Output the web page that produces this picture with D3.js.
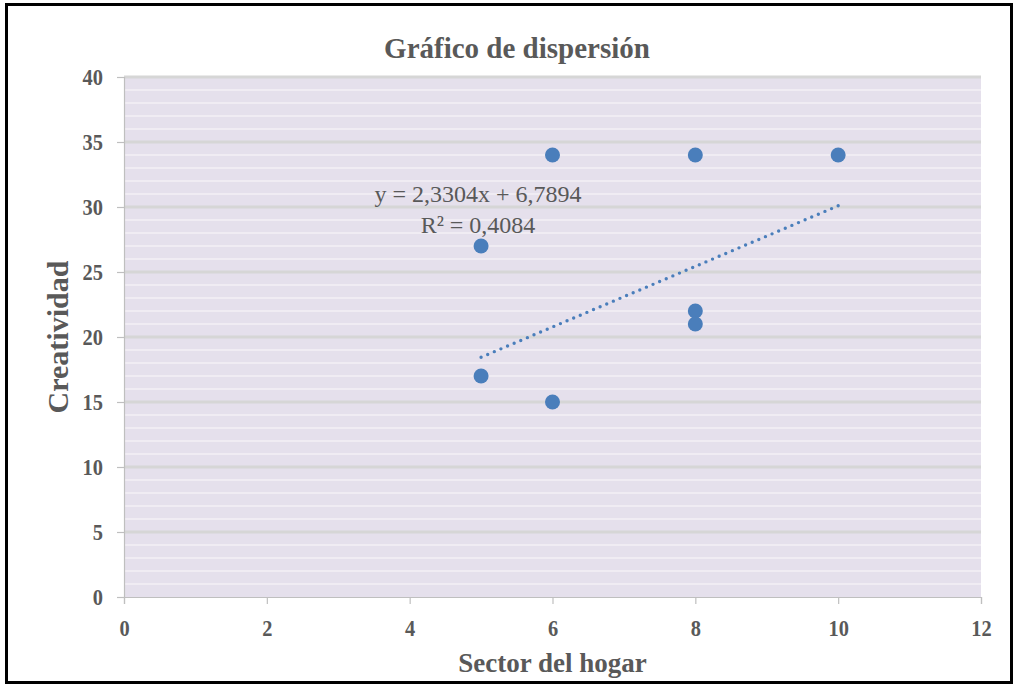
<!DOCTYPE html>
<html>
<head>
<meta charset="utf-8">
<script src="https://cdn.jsdelivr.net/npm/d3@7"></script>
<style>
  html, body { margin: 0; padding: 0; background: #fff; }
  svg { display: block; font-family: "Liberation Serif", "DejaVu Serif", serif; }
</style>
</head>
<body>
<div id="chart"></div>
<script>
// ===== DATA =====
const sectorHogar = [5, 5, 6, 6, 8, 8, 8, 10];
const creatividad = [27, 17, 34, 15, 34, 22, 21, 34];
const xTicks = [0, 2, 4, 6, 8, 10, 12];
const yTicks = [0, 5, 10, 15, 20, 25, 30, 35, 40];
const trendSlope = 2.3304, trendIntercept = 6.7894, trendR2 = 0.4084;
const trendRange = [5, 10];
const chartTitle = 'Gráfico de dispersión';
const xTitle = 'Sector del hogar';
const yTitle = 'Creatividad';

const W = 1018, H = 686;
const margin = { left: 124, right: 37, top: 77, bottom: 89 };
const innerW = W - margin.left - margin.right;
const innerH = H - margin.top - margin.bottom;
const textColor = '#595959';
const blue = '#4a7ebb';
const squeeze = 0.85; // reference glyphs look narrow

const svg = d3.select('#chart').append('svg')
    .attr('width', W).attr('height', H);

// outer frame
svg.append('rect')
    .attr('x', 6.5).attr('y', 4.5).attr('width', 1005).attr('height', 678)
    .attr('fill', '#fff').attr('stroke', '#000').attr('stroke-width', 3);

const x = d3.scaleLinear().domain([0, 12]).range([0, innerW]);
const y = d3.scaleLinear().domain([0, 40]).range([innerH, 0]);

const g = svg.append('g').attr('transform', `translate(${margin.left},${margin.top})`);

// plot background
g.append('rect').attr('width', innerW).attr('height', innerH).attr('fill', '#e5e0ec');

// minor gridlines (every unit)
g.selectAll('.minor').data(d3.range(1, 40).filter(v => v % 5 !== 0))
    .join('line')
    .attr('x1', 0).attr('x2', innerW)
    .attr('y1', d => y(d)).attr('y2', d => y(d))
    .attr('stroke', '#f3f1f6').attr('stroke-width', 1.3);

// major gridlines
g.selectAll('.major').data(yTicks.filter(v => v > 0))
    .join('line')
    .attr('x1', 0).attr('x2', innerW)
    .attr('y1', d => y(d)).attr('y2', d => y(d))
    .attr('stroke', '#d6d6d6').attr('stroke-width', 3);

// axes
const yAxis = g.append('g')
    .call(d3.axisLeft(y).tickValues(yTicks).tickSize(7).tickPadding(14));
const xAxis = g.append('g').attr('transform', `translate(0,${innerH})`)
    .call(d3.axisBottom(x).tickValues(xTicks).tickSize(7).tickPadding(12));

[yAxis, xAxis].forEach(a => {
    a.select('.domain').attr('stroke', '#bfbfbf').attr('stroke-width', 1.2);
    a.selectAll('.tick line').attr('stroke', '#bfbfbf').attr('stroke-width', 1.2);
    a.selectAll('.tick text')
        .attr('fill', textColor)
        .attr('font-family', '"Liberation Serif", serif')
        .attr('font-weight', 700)
        .attr('font-size', 24);
});
// narrow the tick digits, keeping their anchor points
yAxis.selectAll('.tick text')
    .attr('x', -21 / squeeze)
    .attr('transform', `scale(${squeeze},1)`);
xAxis.selectAll('.tick text')
    .attr('dy', '0.85em')
    .attr('transform', `scale(${squeeze},1)`);

// trendline (dotted)
const tx1 = x(trendRange[0]), ty1 = y(trendSlope * trendRange[0] + trendIntercept);
const tx2 = x(trendRange[1]), ty2 = y(trendSlope * trendRange[1] + trendIntercept);
const tLen = Math.hypot(tx2 - tx1, ty2 - ty1);
const gap = tLen / Math.round(tLen / 7.2);
g.append('line')
    .attr('x1', tx1).attr('y1', ty1).attr('x2', tx2).attr('y2', ty2)
    .attr('stroke', blue).attr('stroke-width', 3.4)
    .attr('stroke-linecap', 'round').attr('stroke-dasharray', `0 ${gap}`);

// points
g.selectAll('.pt').data(sectorHogar.map((v, i) => [v, creatividad[i]]))
    .join('circle')
    .attr('cx', d => x(d[0])).attr('cy', d => y(d[1]))
    .attr('r', 7.5).attr('fill', blue);

// trendline label
const fmt = v => String(v).replace('.', ',');
const eq = g.append('text')
    .attr('text-anchor', 'middle')
    .attr('fill', textColor).attr('font-size', 24);
eq.append('tspan').attr('x', 478 - margin.left).attr('y', 202 - margin.top)
    .text(`y = ${fmt(trendSlope)}x + ${fmt(trendIntercept)}`);
eq.append('tspan').attr('x', 478 - margin.left).attr('y', 233 - margin.top)
    .text(`R² = ${fmt(trendR2)}`);

// titles
svg.append('text')
    .attr('x', 517).attr('y', 58).attr('text-anchor', 'middle')
    .attr('fill', textColor).attr('font-size', 29).attr('font-weight', 700)
    .text(chartTitle);

svg.append('text')
    .attr('x', margin.left + innerW / 2).attr('y', 672).attr('text-anchor', 'middle')
    .attr('fill', textColor).attr('font-size', 27).attr('font-weight', 700)
    .text(xTitle);

svg.append('text')
    .attr('transform', `translate(68,${margin.top + innerH / 2}) rotate(-90)`)
    .attr('text-anchor', 'middle')
    .attr('fill', textColor).attr('font-size', 30).attr('font-weight', 700)
    .text(yTitle);
</script>
</body>
</html>
